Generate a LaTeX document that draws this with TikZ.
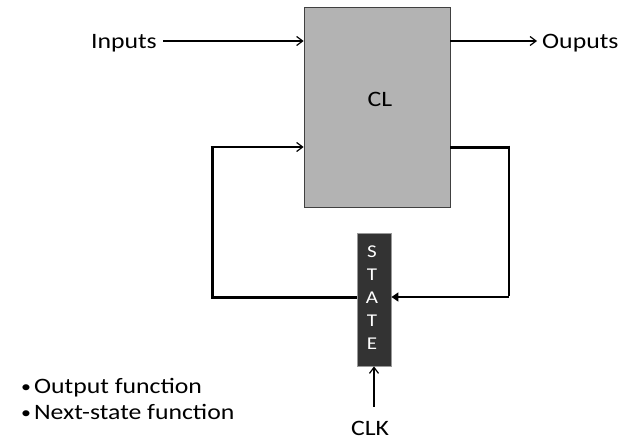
\documentclass[tikz,border=0pt]{standalone}
\usepackage{fontspec}
\setmainfont{Carlito}[FakeStretch=1.17]
\usetikzlibrary{arrows.meta}
\definecolor{clgray}{RGB}{179,179,179}
\definecolor{stategray}{RGB}{51,51,51}
\newcommand{\smallbul}{\raisebox{1pt}{\fontsize{17}{17}\selectfont\textbullet}\hspace{3pt}}
\tikzset{
  lbl/.style={font=\fontsize{22}{26}\selectfont, inner sep=0pt, text height=14pt, text depth=0pt},
  arr/.style={line width=1.5pt, -{Straight Barb[length=6pt,width=9pt,line width=1.2pt]}},
  tarr/.style={line width=1.5pt, -{Triangle[length=7pt,width=9pt]}},
  loopline/.style={line width=3pt},
  clbox/.style={draw=black!75, line width=0.8pt, fill=clgray, minimum width=146pt, minimum height=200pt, inner sep=0pt},
  statebox/.style={draw=black!40, line width=0.8pt, fill=stategray, minimum width=34pt, minimum height=133pt, inner sep=0pt}
}
\begin{document}
\begin{tikzpicture}[x=1pt,y=-1pt]
\useasboundingbox (0,0) rectangle (629,442);
\node[clbox] (cl) at (377,107) {};
\node[lbl] (cltext) at (380,99) {CL};
\node[statebox] (state) at (374,299.5) {};
\node[text=white, font=\fontsize{18}{23}\selectfont, align=center, inner sep=0pt] (statetext) at (372,298) {S\\T\\A\\T\\E};
\node[lbl, anchor=east, inner xsep=6pt] (inputs) at (163,41) {Inputs};
\node[lbl, anchor=west, inner xsep=5pt] (outputs) at (537,41) {Ouputs};
\node[lbl] (clk) at (370,428) {CLK};
\node[lbl, anchor=west] (b1) at (21,386) {\smallbul Output function};
\node[lbl, anchor=west] (b2) at (21,412) {\smallbul Next-state function};
\coordinate (rtop) at (509,147);
\coordinate (rbot) at (509,297);
\coordinate (lbot) at (212,297);
\coordinate (ltop) at (212,147);
\draw[loopline] (rtop -| cl.east) -- (rtop);
\draw[line width=2pt] ([yshift=1.5pt]rtop) -- ([yshift=0.75pt]rbot);
\draw[tarr] (rbot) -- (rbot -| state.east);
\draw[arr] (inputs.east) -- (inputs.east -| cl.west);
\draw[arr] (outputs.west -| cl.east) -- (outputs.west);
\draw[loopline] (lbot -| state.west) -- (lbot) -- (ltop);
\draw[arr] ([xshift=-1.5pt]ltop) -- (ltop -| cl.west);
\draw[arr] ([yshift=14pt]clk.north -| state.south) -- (state.south);
\end{tikzpicture}
\end{document}
